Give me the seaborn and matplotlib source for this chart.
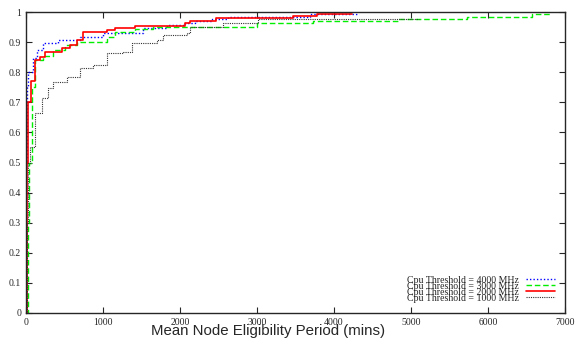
import matplotlib
matplotlib.use("Agg")
import matplotlib.pyplot as plt
import seaborn as sns
import pandas as pd

sns.set_style("ticks")
plt.rcParams['font.family'] = ['Liberation Serif', 'DejaVu Serif']

# Step breakpoints (minutes, cumulative fraction)
x_4000 = [0, 5, 15, 26, 91, 143, 221, 416, 701, 1000, 1519, 1831, 2065, 2195, 2416, 2623, 3688, 4325]
y_4000 = [0, 0.5, 0.75, 0.80, 0.847, 0.874, 0.897, 0.907, 0.917, 0.93, 0.947, 0.957, 0.963, 0.97, 0.977, 0.985, 0.993, 0.993]

x_3000 = [0, 20, 39, 80, 117, 221, 351, 506, 662, 1052, 1156, 1416, 1649, 3000, 3727, 4831, 5727, 6571, 6805]
y_3000 = [0, 0.3, 0.5, 0.75, 0.84, 0.854, 0.874, 0.89, 0.90, 0.917, 0.933, 0.943, 0.95, 0.963, 0.97, 0.977, 0.985, 0.993, 0.993]

x_2000 = [0, 10, 30, 60, 117, 182, 247, 468, 571, 662, 740, 1052, 1156, 1416, 2065, 2130, 2468, 3468, 3779, 4234]
y_2000 = [0, 0.5, 0.7, 0.77, 0.84, 0.85, 0.867, 0.88, 0.89, 0.907, 0.933, 0.94, 0.947, 0.953, 0.963, 0.97, 0.979, 0.986, 0.993, 0.993]

x_1000 = [0, 10, 26, 50, 117, 208, 286, 351, 532, 701, 870, 1052, 1260, 1377, 1701, 1779, 2091, 2130, 2558, 3013, 5100]
y_1000 = [0, 0.3, 0.5, 0.55, 0.664, 0.714, 0.747, 0.767, 0.784, 0.813, 0.824, 0.864, 0.867, 0.897, 0.907, 0.924, 0.93, 0.95, 0.963, 0.976, 0.976]

labels = ["Cpu Threshold = 4000 MHz", "Cpu Threshold = 3000 MHz",
          "Cpu Threshold = 2000 MHz", "Cpu Threshold = 1000 MHz"]
x_ticks = [0, 1000, 2000, 3000, 4000, 5000, 6000, 7000]
y_ticks = [0, 0.1, 0.2, 0.3, 0.4, 0.5, 0.6, 0.7, 0.8, 0.9, 1]
y_ticklabels = ["0", "0.1", "0.2", "0.3", "0.4", "0.5", "0.6", "0.7", "0.8", "0.9", "1"]

fig = plt.figure(figsize=(5.79, 3.38), dpi=100)
ax = fig.add_axes([26/579, 1-313/338, (565-26)/579, (313-12)/338])

series = [(x_4000, y_4000, "#0000ff", (0, (1, 1.5)), 1.0),
          (x_3000, y_3000, "#00ee00", (0, (4, 2)), 1.0),
          (x_2000, y_2000, "#ff0000", "-", 1.2),
          (x_1000, y_1000, "#333333", (0, (1, 1)), 0.8)]
for (xs, ys, c, ls, lw), lab in zip(series, labels):
    df = pd.DataFrame({"x": xs, "y": ys})
    sns.lineplot(data=df, x="x", y="y", ax=ax, color=c, linestyle=ls, linewidth=lw,
                 drawstyle="steps-post", label=lab, sort=False, estimator=None)

ax.set_xlim(0, 7000)
ax.set_ylim(0, 1)
ax.set_xticks(x_ticks)
ax.set_yticks(y_ticks)
ax.set_yticklabels(y_ticklabels)
ax.tick_params(direction="in", top=True, right=True, labelsize=7, length=4, width=0.8)
for sp in ax.spines.values():
    sp.set_linewidth(1.0)
    sp.set_visible(True)
ax.set_xlabel("Mean Node Eligibility Period (mins)", family="Liberation Sans", fontsize=10.8, labelpad=0)
ax.set_ylabel("")
ax.xaxis.set_label_coords(0.45, -0.036)

leg = ax.legend(loc="lower right", frameon=False, markerfirst=False, fontsize=7.1,
                handlelength=2.9, labelspacing=-0.3, borderaxespad=0.65, handletextpad=0.7)
for t in leg.get_texts():
    t.set_ha("right")

fig.savefig("out.png", dpi=100)
